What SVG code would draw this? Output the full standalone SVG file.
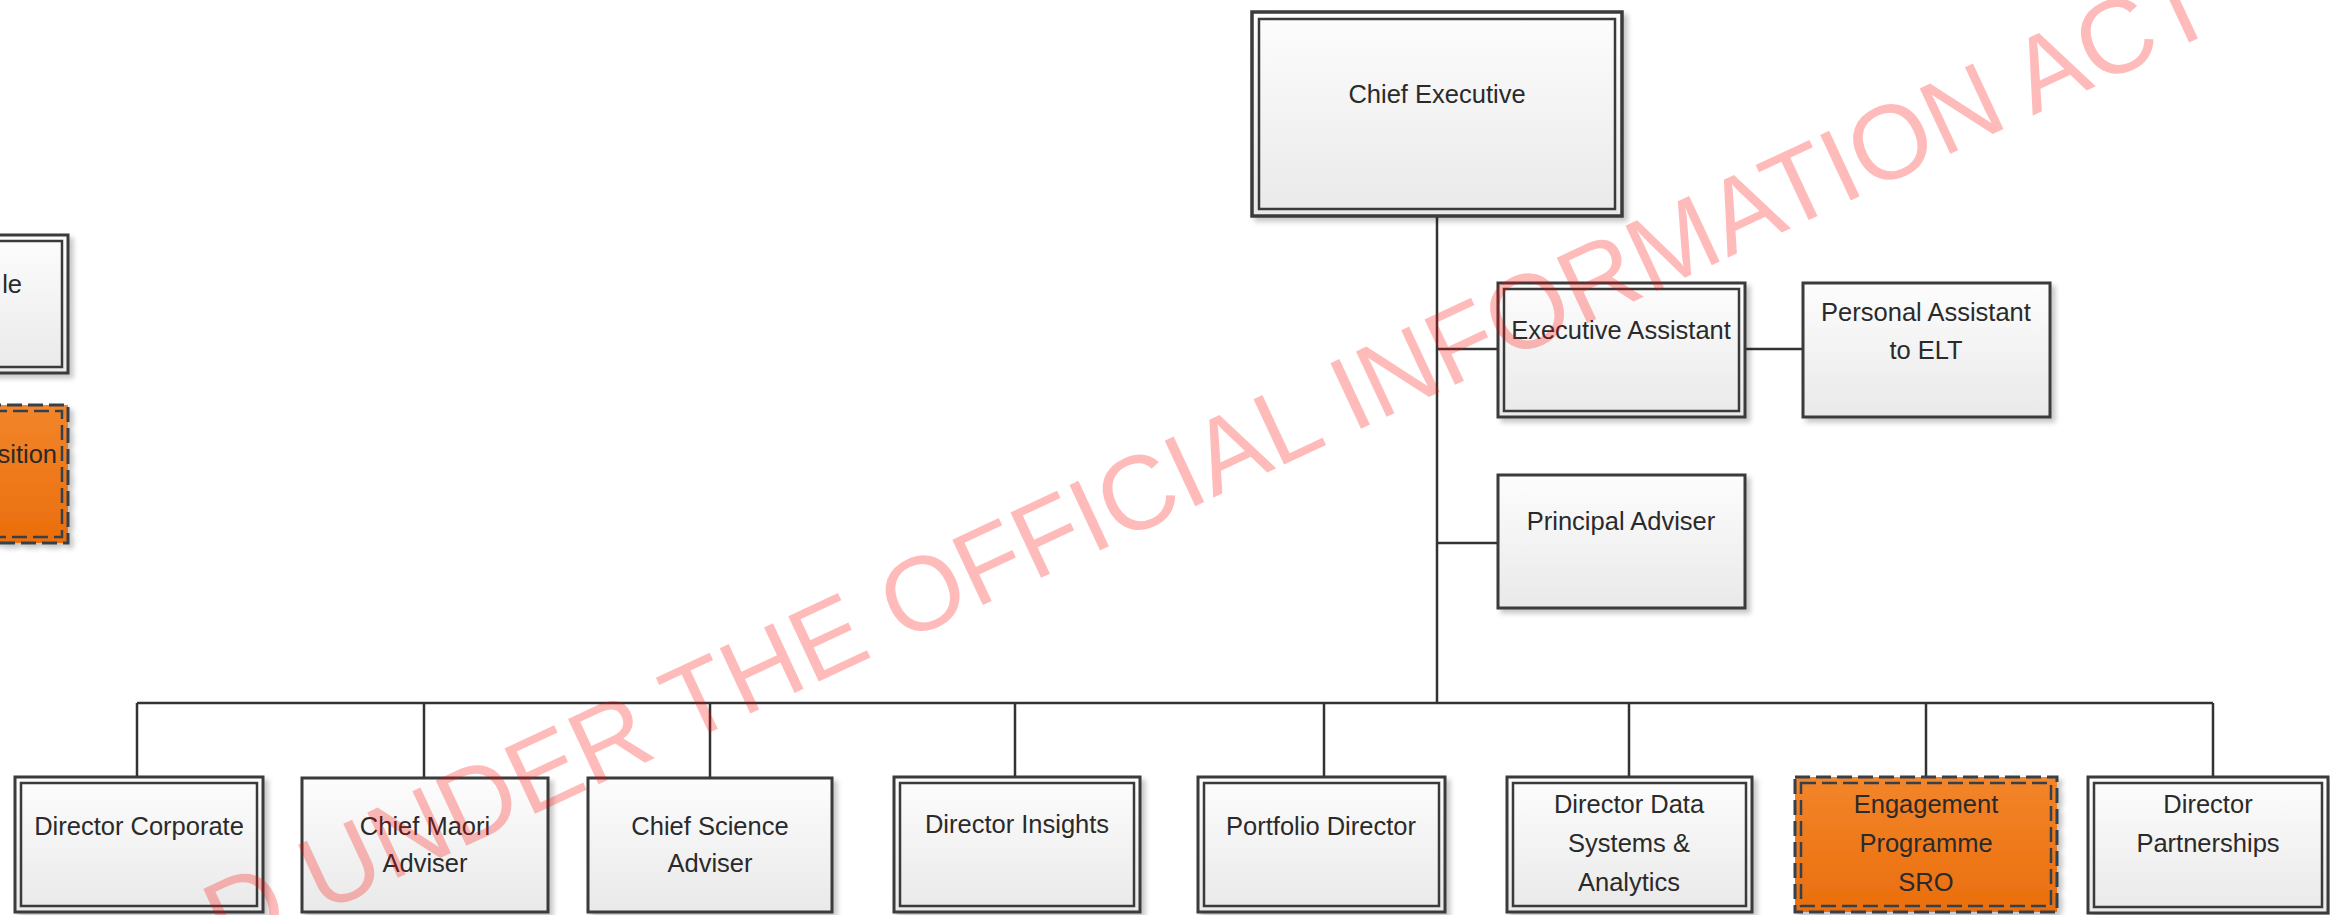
<svg xmlns="http://www.w3.org/2000/svg" width="2330" height="915" viewBox="0 0 2330 915">
  <defs>
    <linearGradient id="boxFill" x1="0" y1="0" x2="0" y2="1">
      <stop offset="0" stop-color="#fdfdfd"/>
      <stop offset="1" stop-color="#e9e9e9"/>
    </linearGradient>
    <linearGradient id="orangeFill" x1="0" y1="0" x2="0" y2="1">
      <stop offset="0" stop-color="#f3852a"/>
      <stop offset="1" stop-color="#ea6e0d"/>
    </linearGradient>
    <filter id="shadow" x="-10%" y="-10%" width="125%" height="130%">
      <feDropShadow dx="4" dy="4" stdDeviation="2.5" flood-color="#000" flood-opacity="0.22"/>
    </filter>
  </defs>
  <style>
    .frame { fill: url(#boxFill); stroke: #3a3a3a; stroke-width: 3; filter: url(#shadow); }
    .inner { fill: none; stroke: #3a3a3a; stroke-width: 2.5; }
    .vacant { fill: url(#orangeFill); stroke: #34404c; stroke-width: 3; stroke-dasharray: 15 6; filter: url(#shadow); }
    .vacant-inner { fill: none; stroke: #34404c; stroke-width: 2.5; stroke-dasharray: 15 6; }
    .label { font-family: "Liberation Sans", Arial, sans-serif; font-size: 25.5px; fill: #2a2a2a; text-anchor: middle; }
    .label-end { font-family: "Liberation Sans", Arial, sans-serif; font-size: 25.5px; fill: #2a2a2a; text-anchor: end; }
    .link { fill: none; stroke: #333333; stroke-width: 2.5; }
    .stamp { font-family: "Liberation Sans", Arial, sans-serif; font-size: 105px; fill: #ff0000; fill-opacity: 0.27; }
  </style>

  <rect x="0" y="0" width="2330" height="915" fill="#ffffff"/>

  <!-- key (partly outside the page on the left) -->
  <g id="key-role">
    <rect class="frame" x="-182" y="235" width="250" height="138"/>
    <rect class="inner" x="-176" y="241" width="238" height="126"/>
    <text class="label-end" x="22" y="293">le</text>
  </g>
  <g id="key-position">
    <rect class="vacant" x="-182" y="405" width="250" height="138"/>
    <rect class="vacant-inner" x="-176" y="411" width="238" height="126"/>
    <text class="label-end" x="57" y="463">sition</text>
  </g>

  <!-- reporting lines -->
  <g id="connectors">
    <path class="link" d="M1437 216 V703"/>
    <path class="link" d="M1437 349 H1498"/>
    <path class="link" d="M1745 349 H1803"/>
    <path class="link" d="M1437 543 H1498"/>
    <path class="link" d="M137 703 H2213"/>
    <path class="link" d="M137 703 V777 M424 703 V777 M710 703 V777 M1015 703 V777 M1324 703 V777 M1629 703 V777 M1926 703 V777 M2213 703 V777"/>
  </g>

  <!-- top of the structure -->
  <g id="chief-executive">
    <rect class="frame" x="1252" y="12" width="370" height="204" style="stroke-width:3.5"/>
    <rect class="inner" x="1259" y="19" width="356" height="190"/>
    <text class="label" x="1437" y="103">Chief Executive</text>
  </g>
  <g id="executive-assistant">
    <rect class="frame" x="1498" y="283" width="247" height="134"/>
    <rect class="inner" x="1504" y="289" width="235" height="122"/>
    <text class="label" x="1621" y="339">Executive Assistant</text>
  </g>
  <g id="personal-assistant">
    <rect class="frame" x="1803" y="283" width="247" height="134"/>
    <text class="label" x="1926" y="321">Personal Assistant</text>
    <text class="label" x="1926" y="359">to ELT</text>
  </g>
  <g id="principal-adviser">
    <rect class="frame" x="1498" y="475" width="247" height="133"/>
    <text class="label" x="1621" y="530">Principal Adviser</text>
  </g>

  <!-- direct reports -->
  <g id="director-corporate">
    <rect class="frame" x="15" y="777" width="248" height="135"/>
    <rect class="inner" x="21" y="783" width="236" height="123"/>
    <text class="label" x="139" y="835">Director Corporate</text>
  </g>
  <g id="chief-maori-adviser">
    <rect class="frame" x="302" y="778" width="246" height="134"/>
    <text class="label" x="425" y="835">Chief Maori</text>
    <text class="label" x="425" y="872">Adviser</text>
  </g>
  <g id="chief-science-adviser">
    <rect class="frame" x="588" y="778" width="244" height="134"/>
    <text class="label" x="710" y="835">Chief Science</text>
    <text class="label" x="710" y="872">Adviser</text>
  </g>
  <g id="director-insights">
    <rect class="frame" x="894" y="777" width="246" height="135"/>
    <rect class="inner" x="900" y="783" width="234" height="123"/>
    <text class="label" x="1017" y="833">Director Insights</text>
  </g>
  <g id="portfolio-director">
    <rect class="frame" x="1198" y="777" width="247" height="135"/>
    <rect class="inner" x="1204" y="783" width="235" height="123"/>
    <text class="label" x="1321" y="835">Portfolio Director</text>
  </g>
  <g id="director-data">
    <rect class="frame" x="1507" y="777" width="245" height="135"/>
    <rect class="inner" x="1513" y="783" width="233" height="123"/>
    <text class="label" x="1629" y="813">Director Data</text>
    <text class="label" x="1629" y="852">Systems &amp;</text>
    <text class="label" x="1629" y="891">Analytics</text>
  </g>
  <g id="engagement-sro">
    <rect class="vacant" x="1795" y="777" width="262" height="135"/>
    <rect class="vacant-inner" x="1801" y="783" width="250" height="123"/>
    <text class="label" x="1926" y="813">Engagement</text>
    <text class="label" x="1926" y="852">Programme</text>
    <text class="label" x="1926" y="891">SRO</text>
  </g>
  <g id="director-partnerships">
    <rect class="frame" x="2088" y="777" width="240" height="136"/>
    <rect class="inner" x="2094" y="783" width="228" height="124"/>
    <text class="label" x="2208" y="813">Director</text>
    <text class="label" x="2208" y="852">Partnerships</text>
  </g>

  <!-- release stamp across the sheet -->
  <text class="stamp" x="226" y="958" transform="rotate(-25 226 958)">D UNDER THE OFFICIAL INFORMATION ACT</text>
</svg>
